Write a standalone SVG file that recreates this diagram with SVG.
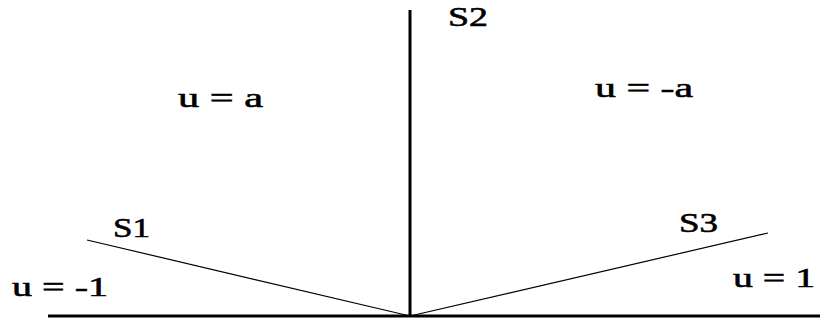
<svg xmlns="http://www.w3.org/2000/svg" width="820" height="320" viewBox="0 0 820 320">
<style>
.thick{stroke:#000;stroke-width:3;fill:none}
.thin{stroke:#000;stroke-width:1.2;fill:none}
.lbl{font-family:'Liberation Serif','Times New Roman',serif;font-size:28px;font-weight:normal;fill:#000;stroke:#000;stroke-width:0.6}
</style>
<rect width="820" height="320" fill="#fff"/>
<g id="connectors">
<line class="thick" x1="48" y1="316" x2="820" y2="316"/>
<line class="thick" x1="410" y1="10" x2="410" y2="316"/>
<line class="thin" x1="87" y1="240" x2="410" y2="316"/>
<line class="thin" x1="410" y1="316" x2="768" y2="233"/>
</g>
<g id="S2"><text class="lbl" x="448" y="26" textLength="40" lengthAdjust="spacingAndGlyphs">S2</text></g>
<g id="S1"><text class="lbl" x="113" y="237" font-size="26" textLength="37" lengthAdjust="spacingAndGlyphs">S1</text></g>
<g id="S3"><text class="lbl" x="679" y="232" font-size="27" textLength="39" lengthAdjust="spacingAndGlyphs">S3</text></g>
<g id="region-ua"><text class="lbl" x="178" y="107" font-size="30" textLength="85" lengthAdjust="spacingAndGlyphs">u = a</text></g>
<g id="region-u-minus-a"><text class="lbl" x="595" y="97" textLength="98" lengthAdjust="spacingAndGlyphs">u = -a</text></g>
<g id="region-u-minus-1"><text class="lbl" x="12" y="296" font-size="29" textLength="96" lengthAdjust="spacingAndGlyphs">u = -1</text></g>
<g id="region-u1"><text class="lbl" x="733" y="287" font-size="27" textLength="82" lengthAdjust="spacingAndGlyphs">u = 1</text></g>
</svg>
